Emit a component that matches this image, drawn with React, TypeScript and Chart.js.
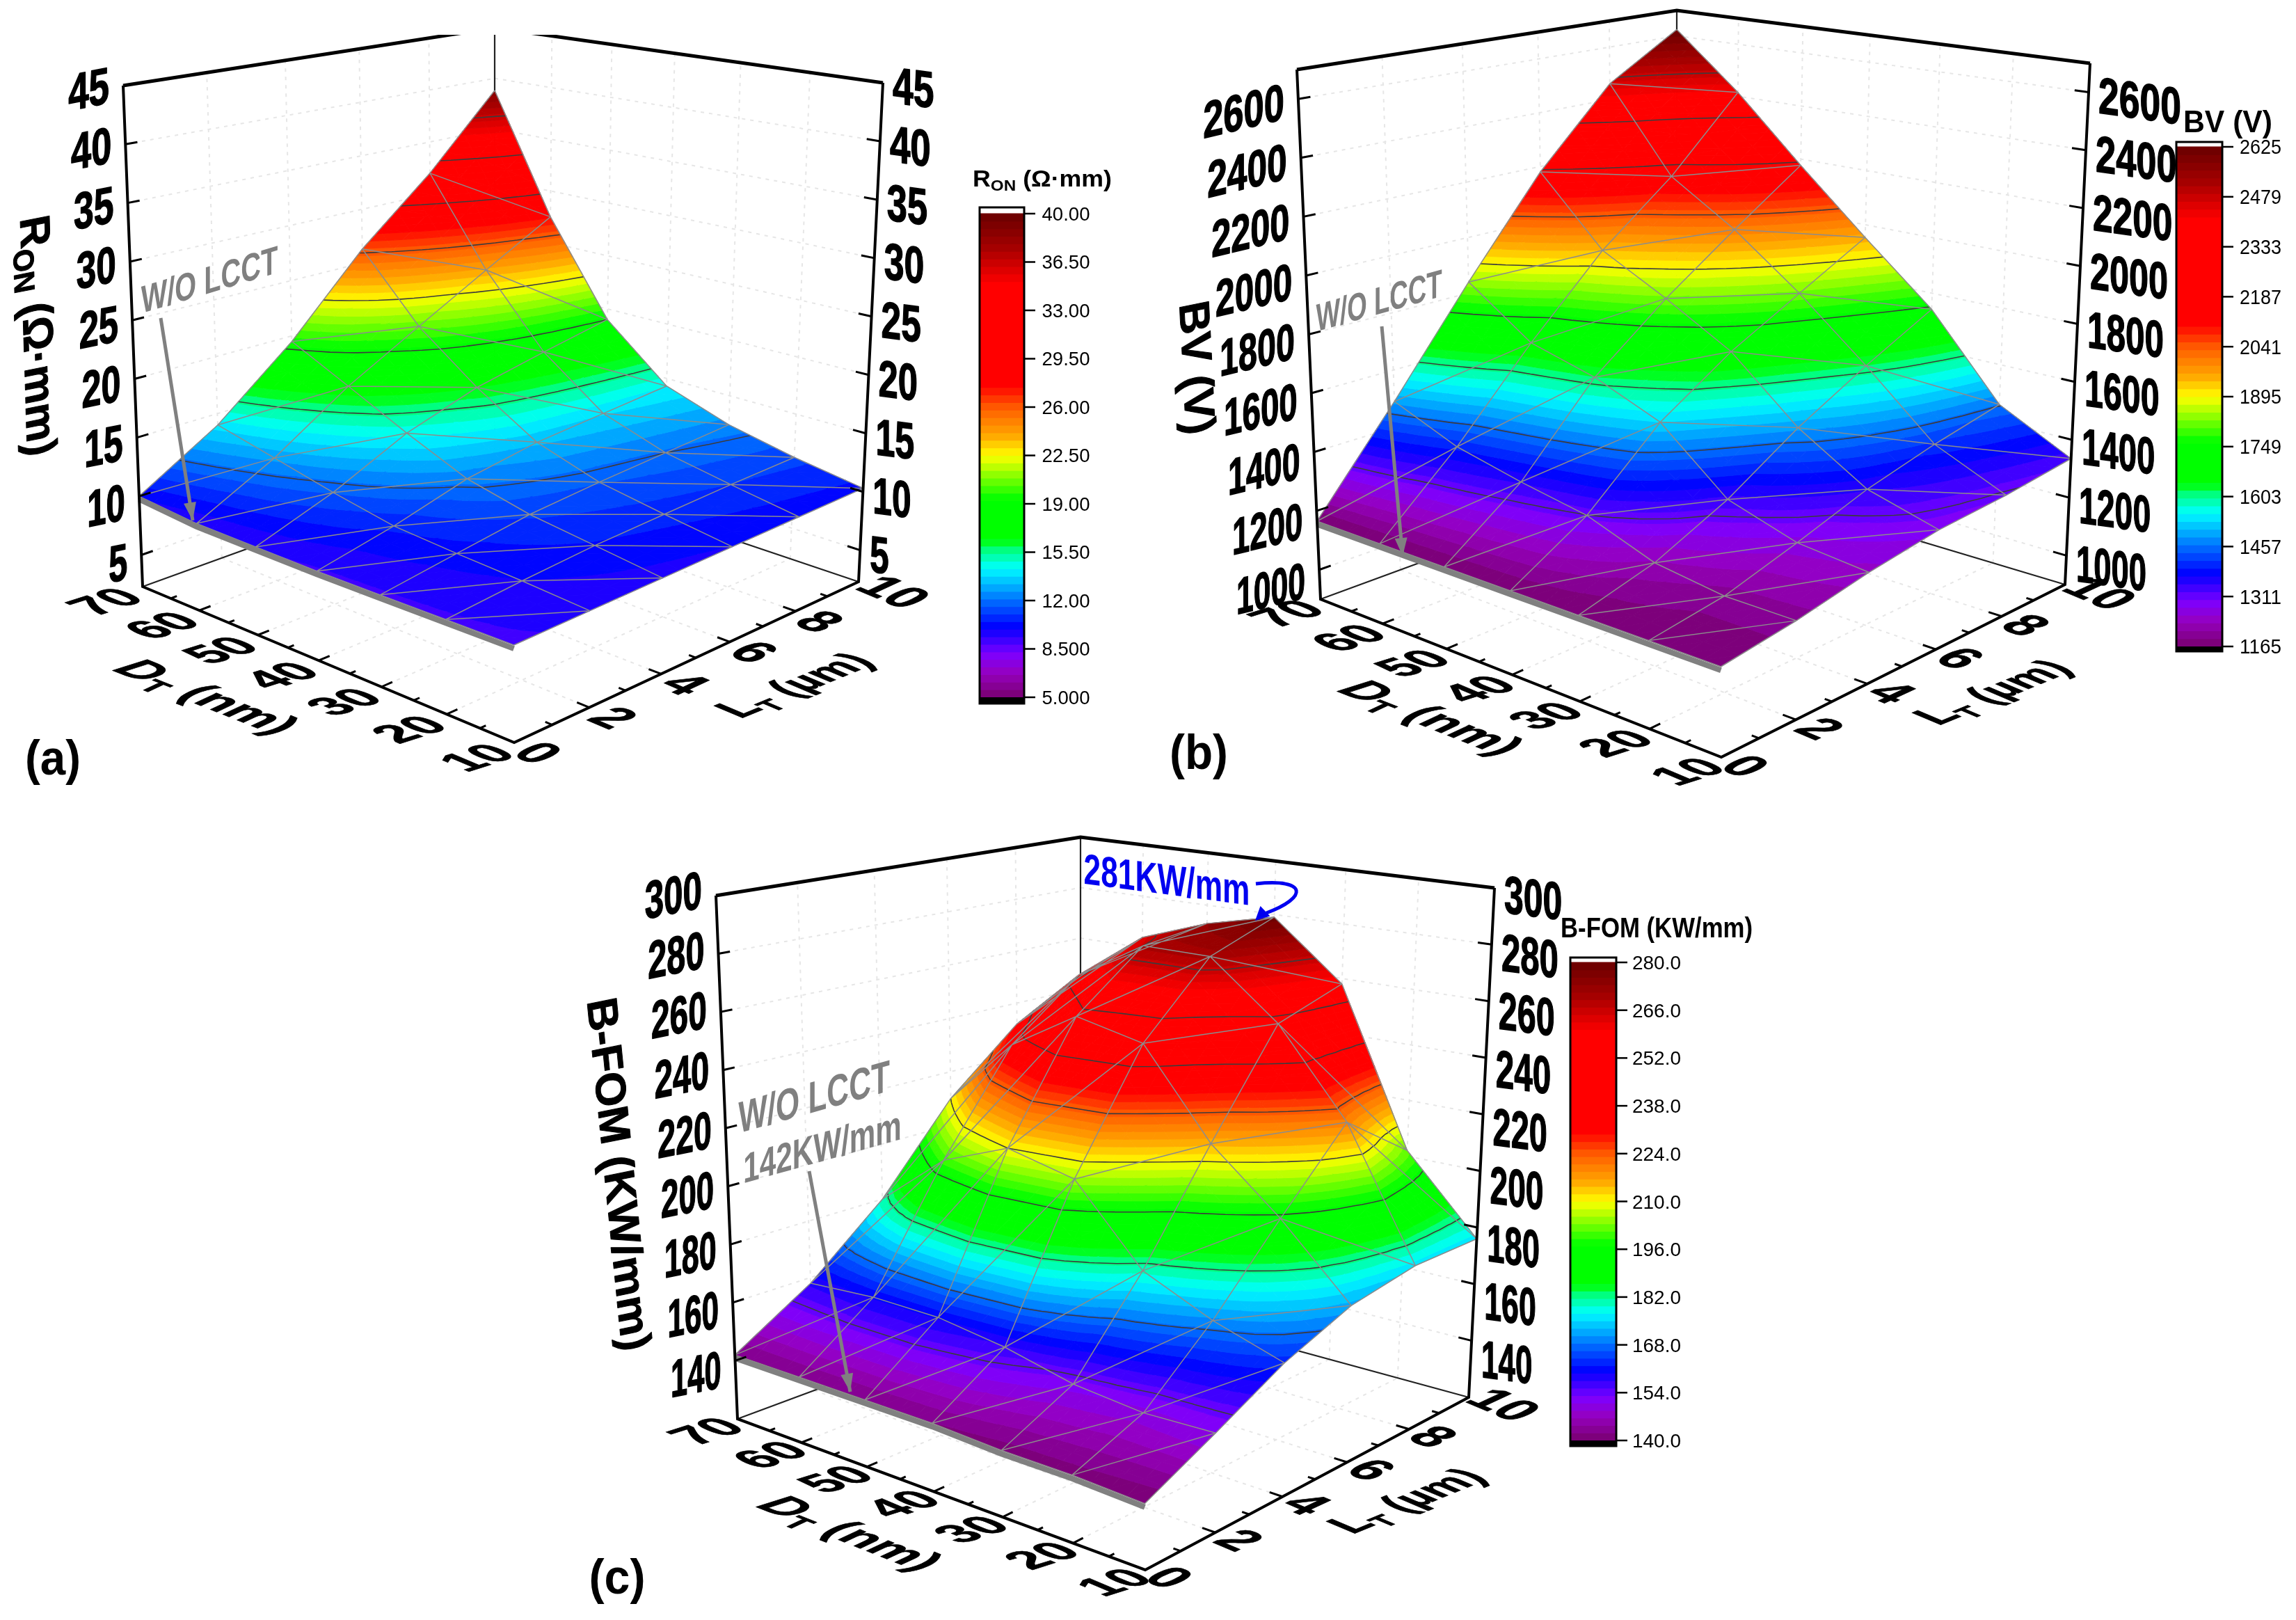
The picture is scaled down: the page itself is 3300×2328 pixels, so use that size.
import React, { useEffect, useRef } from "react";
import { Chart, registerables } from "chart.js";

Chart.register(...registerables);

// ---------- data ----------
const D_VALUES = [70, 60, 50, 40, 30, 20, 10];
const L_VALUES = [0, 2, 4, 6, 8, 10];
const D_TICKS = [70, 60, 50, 40, 30, 20, 10];
const L_TICKS = [0, 2, 4, 6, 8, 10];

// rows follow D_VALUES, columns follow L_VALUES
const RON_VALUES = [
  [10.0, 14.0, 19.5, 26.3, 32.0, 38.8],
  [9.5, 12.8, 17.0, 20.5, 24.0, 27.5],
  [9.4, 11.6, 14.5, 16.5, 17.8, 19.0],
  [9.3, 10.6, 12.3, 13.3, 13.8, 14.3],
  [9.3, 10.2, 11.1, 11.6, 12.0, 12.4],
  [9.3, 9.9, 10.4, 10.7, 11.0, 11.2],
  [9.3, 9.5, 9.7, 9.9, 10.1, 10.3],
];
const BV_VALUES = [
  [1165, 1490, 1840, 2180, 2460, 2625],
  [1165, 1400, 1680, 1940, 2150, 2415],
  [1165, 1350, 1620, 1820, 2000, 2177],
  [1165, 1310, 1530, 1690, 1820, 1953],
  [1165, 1230, 1340, 1490, 1620, 1742],
  [1165, 1200, 1270, 1350, 1410, 1460],
  [1165, 1200, 1249, 1287, 1305, 1335],
];
const BFOM_VALUES = [
  [142, 158, 180, 210, 232, 245],
  [142, 160, 200, 235, 255, 264],
  [142, 160, 210, 250, 270, 273],
  [142, 157, 205, 245, 270, 279],
  [141, 152, 180, 215, 250, 258],
  [141, 150, 170, 195, 220, 202],
  [140, 151, 163, 172, 176, 176],
];

const RON_Z_TICKS = [5, 10, 15, 20, 25, 30, 35, 40, 45];
const BV_Z_TICKS = [1000, 1200, 1400, 1600, 1800, 2000, 2200, 2400, 2600];
const BFOM_Z_TICKS = [140, 160, 180, 200, 220, 240, 260, 280, 300];

const RON_LEGEND = ["5.000", "8.500", "12.00", "15.50", "19.00", "22.50", "26.00", "29.50", "33.00", "36.50", "40.00"];
const BV_LEGEND = ["1165", "1311", "1457", "1603", "1749", "1895", "2041", "2187", "2333", "2479", "2625"];
const BFOM_LEGEND = ["140.0", "154.0", "168.0", "182.0", "196.0", "210.0", "224.0", "238.0", "252.0", "266.0", "280.0"];

// ---------- colour map ----------
const COLOR_STOPS: [number, number, number, number][] = [
  [0, 120, 0, 110],
  [0.05, 150, 0, 190],
  [0.09, 125, 0, 255],
  [0.146, 0, 0, 255],
  [0.2, 0, 110, 255],
  [0.268, 0, 255, 255],
  [0.31, 0, 255, 110],
  [0.325, 0, 255, 0],
  [0.41, 0, 255, 0],
  [0.5, 255, 255, 0],
  [0.54, 255, 170, 0],
  [0.6, 255, 90, 0],
  [0.645, 255, 0, 0],
  [0.855, 255, 0, 0],
  [0.93, 165, 0, 0],
  [1, 105, 0, 0],
];
const BANDS = 64;
function bandColor(i: number) {
  const t = (i + 0.5) / BANDS;
  for (let k = 1; k < COLOR_STOPS.length; k++) {
    const a = COLOR_STOPS[k - 1], b = COLOR_STOPS[k];
    if (t <= b[0]) {
      const f = (t - a[0]) / (b[0] - a[0]);
      return `rgb(${Math.round(a[1] + f * (b[1] - a[1]))},${Math.round(a[2] + f * (b[2] - a[2]))},${Math.round(a[3] + f * (b[3] - a[3]))})`;
    }
  }
  return "rgb(105,0,0)";
}

// ---------- panel layout ----------
type P = [number, number];
const PANELS: any[] = [
  {
    key: "a", rows: RON_VALUES, zMin: 2.3, zMax: 45, zTicks: RON_Z_TICKS, legend: RON_LEGEND,
    lMin: 5, lMax: 40,
    A: [205, 843], At: [177, 123], B: [739, 1067], Bt: [736, 213], C: [1234, 836], Ct: [1269, 119], E: [711, 660], Et: [711, 40],
    depth: [720, 800, 717, 620],
    zFont: { em: 74, w: 30, wBot: 0.92 }, zDyL: [-2, 8], zDyR: [2, 4], slopeL: -0.2, slopeR: 0.13,
    dOff: [-55, 21], lOff: [36, 14],
    zTitle: { runs: [["R", 1], ["ON", 0.68, 0.18], [" (Ω·mm)", 1]], x: 56, y: 482, b: [0.03, 1], u: [1, -0.2], em: 62, w: 344 },
    dTitle: { x: 300, y: 1000, w: 254, em: 66 }, lTitle: { x: 1140, y: 984, w: 212, em: 65 },
    bar: { x0: 1408, x1: 1472, top: 298, hi: 307, lo: 1002, bottom: 1011, lx: 1532, lw: 69, lem: 27 },
    barTitle: { runs: [["R", 1], ["ON", 0.68, 0.18], [" (Ω·mm)", 1]], x: 1498, y: 256, em: 33, w: 200 },
    tag: { text: "(a)", x: 76, y: 1088, w: 80, em: 70 },
    notes: [{ text: "W/O LCCT", x: 301, y: 401, w: 205, em: 56, slope: -0.3 }],
    arrow: [[231, 457], [277, 748]],
    clipTop: [600, 850, 50],
  },
  {
    key: "b", rows: BV_VALUES, zMin: 900, zMax: 2700, zTicks: BV_Z_TICKS, legend: BV_LEGEND,
    lMin: 1165, lMax: 2625,
    A: [1898, 861], At: [1864, 100], B: [2474, 1088], Bt: [2470, 205], C: [2968, 840], Ct: [3004, 91], E: [2410, 673], Et: [2410, 15],
    depth: [761, 830, 749, 658],
    zFont: { em: 74, w: 30, wBot: 0.85 }, zDyL: [2, 14], zDyR: [3, 10], slopeL: -0.24, slopeR: 0.14,
    dOff: [-50, 20], lOff: [36, 12],
    zTitle: { runs: [["BV (V)", 1]], x: 1722, y: 528, b: [0.05, 1], u: [1, -0.2], em: 62, w: 190 },
    dTitle: { x: 2060, y: 1030, w: 254, em: 66 }, lTitle: { x: 2862, y: 994, w: 212, em: 65 },
    bar: { x0: 3128, x1: 3194, top: 204, hi: 211, lo: 929, bottom: 936, lx: 3249, lw: 60, lem: 29 },
    barTitle: { runs: [["BV (V)", 1]], x: 3202, y: 174, em: 44, w: 128 },
    tag: { text: "(b)", x: 1723, y: 1080, w: 84, em: 70 },
    notes: [{ text: "W/O LCCT", x: 1982, y: 431, w: 188, em: 56, slope: -0.28 }],
    arrow: [[1986, 469], [2016, 799]],
  },
  {
    key: "c", rows: BFOM_VALUES, zMin: 120, zMax: 300, zTicks: BFOM_Z_TICKS, legend: BFOM_LEGEND,
    lMin: 140, lMax: 280,
    A: [1060, 2039], At: [1029, 1287], B: [1646, 2256], Bt: [1640, 1398], C: [2111, 2008], Ct: [2148, 1276], E: [1553, 1856], Et: [1553, 1203],
    depth: [752, 810, 732, 653],
    zFont: { em: 76, w: 28, wBot: 0.88 }, zDyL: [-10, 11], zDyR: [8, 25], slopeL: -0.2, slopeR: 0.13,
    dOff: [-46, 17], lOff: [36, 10],
    zTitle: { runs: [["B-FOM (KW/mm)", 1]], x: 891, y: 1687, b: [0.1, 1], u: [1, -0.2], em: 62, w: 508 },
    dTitle: { x: 1225, y: 2202, w: 254, em: 66 }, lTitle: { x: 2020, y: 2156, w: 212, em: 65 },
    bar: { x0: 2257, x1: 2323, top: 1376, hi: 1383, lo: 2070, bottom: 2078, lx: 2381, lw: 70, lem: 28 },
    barTitle: { runs: [["B-FOM (KW/mm)", 1]], x: 2381, y: 1333, em: 40, w: 276 },
    tag: { text: "(c)", x: 887, y: 2265, w: 81, em: 70 },
    notes: [
      { text: "W/O LCCT", x: 1170, y: 1575, w: 226, em: 64, slope: -0.28 },
      { text: "142KW/mm", x: 1182, y: 1647, w: 236, em: 60, slope: -0.28 },
    ],
    arrow: [[1163, 1683], [1222, 2000]],
    blue: { text: "281KW/mm", x: 1677, y: 1263, w: 241, em: 62, slope: 0.13 },
  },
];

// ---------- projection from (D, L, z) to the page scales ----------
function project(p: any, D: number, L: number, z: number): P {
  const u = L / 10;
  const v = (70 - D) / 60;
  const w = (z - p.zMin) / (p.zMax - p.zMin);
  const wt = [(1 - u) * (1 - v) / p.depth[0], (1 - u) * v / p.depth[1], u * v / p.depth[2], u * (1 - v) / p.depth[3]];
  const floor = [p.A, p.B, p.C, p.E];
  const top = [p.At, p.Bt, p.Ct, p.Et];
  let sx = 0, sy = 0, s = 0;
  for (let i = 0; i < 4; i++) {
    sx += wt[i] * (floor[i][0] + w * (top[i][0] - floor[i][0]));
    sy += wt[i] * (floor[i][1] + w * (top[i][1] - floor[i][1]));
    s += wt[i];
  }
  return [sx / s, sy / s];
}

function heightAt(p: any, di: number, lj: number) {
  const i0 = Math.min(Math.floor(di), D_VALUES.length - 2);
  const j0 = Math.min(Math.floor(lj), L_VALUES.length - 2);
  const fi = di - i0, fj = lj - j0;
  const r = p.rows;
  return (1 - fi) * (1 - fj) * r[i0][j0] + (1 - fi) * fj * r[i0][j0 + 1] + fi * (1 - fj) * r[i0 + 1][j0] + fi * fj * r[i0 + 1][j0 + 1];
}
const dAt = (di: number) => 70 - di * 10;
const lAt = (lj: number) => lj * 2;

// ---------- dataset builders ----------
const BREAK = { x: NaN, y: NaN };
function pt(p: any, D: number, L: number, z: number) {
  const q = project(p, D, L, z);
  return { x: q[0], y: q[1] };
}
function segs(list: { x: number; y: number }[][]) {
  const out: any[] = [];
  list.forEach((s) => { out.push(...s, BREAK); });
  return out;
}
function line(label: string, data: any[], color: string, width: number, order: number, dash?: number[]) {
  return {
    label, data, showLine: true, borderColor: color, borderWidth: width, pointRadius: 0, order,
    borderDash: dash || [], tension: 0, fill: false, spanGaps: false, borderCapStyle: "butt",
  };
}

function buildDatasets() {
  const sets: any[] = [];
  PANELS.forEach((p) => {
    const { zMin: a, zMax: b, zTicks } = p;
    // wall and floor grid
    const grid: any[][] = [];
    D_TICKS.slice(1, -1).forEach((D) => {
      grid.push([pt(p, D, 0, a), pt(p, D, 10, a)]);
      grid.push([pt(p, D, 10, a), pt(p, D, 10, b)]);
    });
    L_TICKS.slice(1, -1).forEach((L) => {
      grid.push([pt(p, 70, L, a), pt(p, 10, L, a)]);
      grid.push([pt(p, 70, L, a), pt(p, 70, L, b)]);
    });
    zTicks.forEach((z: number) => {
      grid.push([pt(p, 70, 0, z), pt(p, 70, 10, z)]);
      grid.push([pt(p, 70, 10, z), pt(p, 10, 10, z)]);
    });
    sets.push(line(`grid ${p.key}`, segs(grid), "#e6e6e6", 2, 60, [5, 7]));
    // back frame
    sets.push(line(`back ${p.key}`, segs([
      [pt(p, 70, 0, a), pt(p, 70, 10, a), pt(p, 10, 10, a)],
      [pt(p, 70, 10, a), pt(p, 70, 10, b)],
    ]), "#222222", 2.2, 50));
    // surface anchor: the plugin fills the bands when this dataset is reached
    const nodes: any[] = [];
    D_VALUES.forEach((D, i) => L_VALUES.forEach((L, j) => nodes.push(pt(p, D, L, p.rows[i][j]))));
    sets.push({ label: `surface ${p.key}`, data: nodes, showLine: false, pointRadius: 0, order: 40, panel: p });
    // mesh
    const mesh: any[][] = [];
    D_VALUES.forEach((D, i) => mesh.push(L_VALUES.map((L, j) => pt(p, D, L, p.rows[i][j]))));
    L_VALUES.forEach((L, j) => mesh.push(D_VALUES.map((D, i) => pt(p, D, L, p.rows[i][j]))));
    for (let i = 0; i < D_VALUES.length - 1; i++) {
      for (let j = 0; j < L_VALUES.length - 1; j++) {
        mesh.push([pt(p, D_VALUES[i], L_VALUES[j], p.rows[i][j]), pt(p, D_VALUES[i + 1], L_VALUES[j + 1], p.rows[i + 1][j + 1])]);
      }
    }
    sets.push(line(`mesh ${p.key}`, segs(mesh), "#8c8c8c", 1.5, 30));
    // thick grey edge for W/O LCCT
    const sink = (b - a) * 0.006;
    sets.push(line(`edge ${p.key}`, D_VALUES.map((D, i) => pt(p, D, 0, p.rows[i][0] - sink)), "#808080", 8, 20));
    // front frame and ticks
    sets.push(line(`top ${p.key}`, [pt(p, 70, 0, b), pt(p, 70, 10, b), pt(p, 10, 10, b)], "#000000", 5, 15));
    sets.push(line(`front ${p.key}`, segs([
      [pt(p, 70, 0, b), pt(p, 70, 0, a), pt(p, 10, 0, a), pt(p, 10, 10, a), pt(p, 10, 10, b)],
    ]), "#000000", 4, 14));
    const ticks: any[][] = [];
    for (let D = 15; D < 70; D += 5) {
      const major = D % 10 === 0;
      ticks.push([pt(p, D, 0, a), pt(p, D, major ? 0.28 : 0.15, a)]);
    }
    for (let L = 1; L < 10; L += 1) {
      const major = L % 2 === 0;
      ticks.push([pt(p, 10, L, a), pt(p, major ? 11.8 : 11, L, a)]);
    }
    zTicks.forEach((z: number) => {
      ticks.push([pt(p, 70, 0, z), pt(p, 70, 0.28, z)]);
      ticks.push([pt(p, 10, 10, z), pt(p, 11.8, 10, z)]);
    });
    sets.push(line(`ticks ${p.key}`, segs(ticks), "#000000", 3, 13));
  });
  return sets;
}

// ---------- text ----------
function drawRuns(ctx: any, runs: any[], o: any) {
  const nb = Math.hypot(o.b[0], o.b[1]), nu = Math.hypot(o.u[0], o.u[1]);
  const bx = o.b[0] / nb, by = o.b[1] / nb, ux = o.u[0] / nu, uy = o.u[1] / nu;
  ctx.save();
  ctx.fillStyle = o.color || "#000";
  ctx.strokeStyle = o.color || "#000";
  ctx.textBaseline = "alphabetic";
  ctx.textAlign = "left";
  const weight = o.weight || "bold";
  const fontOf = (r: any) => `${r[3] ? "italic " : ""}${weight} ${o.em * r[1]}px "Liberation Sans"`;
  let total = 0;
  runs.forEach((r) => { ctx.font = fontOf(r); total += ctx.measureText(r[0]).width; });
  const sx = o.w ? o.w / total : o.sx || 1;
  ctx.transform(bx * sx, by * sx, -ux, -uy, o.x, o.y);
  let x = o.align === "left" ? 0 : o.align === "right" ? -total : -total / 2;
  const base = o.em * 0.36;
  ctx.lineWidth = o.heavy || 0;
  ctx.lineJoin = "round";
  runs.forEach((r) => {
    ctx.font = fontOf(r);
    ctx.fillText(r[0], x, base + (r[2] || 0) * o.em);
    if (o.heavy) ctx.strokeText(r[0], x, base + (r[2] || 0) * o.em);
    x += ctx.measureText(r[0]).width;
  });
  ctx.restore();
}

function arrowHead(ctx: any, from: P, to: P, len: number, half: number) {
  const dx = to[0] - from[0], dy = to[1] - from[1];
  const n = Math.hypot(dx, dy);
  const ux = dx / n, uy = dy / n;
  ctx.beginPath();
  ctx.moveTo(to[0], to[1]);
  ctx.lineTo(to[0] - ux * len - uy * half, to[1] - uy * len + ux * half);
  ctx.lineTo(to[0] - ux * len + uy * half, to[1] - uy * len - ux * half);
  ctx.closePath();
  ctx.fill();
}

// ---------- surface ----------
function clipBelow(poly: any[], level: number, keepAbove: boolean) {
  const out: any[] = [];
  for (let i = 0; i < poly.length; i++) {
    const a = poly[i], b = poly[(i + 1) % poly.length];
    const ina = keepAbove ? a.z >= level : a.z <= level;
    const inb = keepAbove ? b.z >= level : b.z <= level;
    if (ina) out.push(a);
    if (ina !== inb) {
      const f = (level - a.z) / (b.z - a.z);
      out.push({ x: a.x + f * (b.x - a.x), y: a.y + f * (b.y - a.y), z: level });
    }
  }
  return out;
}

function drawSurface(chart: any, p: any) {
  const ctx = chart.ctx;
  const xs = chart.scales.x, ys = chart.scales.y;
  const SUB = 4;
  const dz = (p.lMax - p.lMin) / BANDS;
  const colors = Array.from({ length: BANDS }, (_, i) => bandColor(i));
  const vert = (di: number, lj: number) => {
    const z = heightAt(p, di, lj);
    const q = project(p, dAt(di), lAt(lj), z);
    return { x: xs.getPixelForValue(q[0]), y: ys.getPixelForValue(q[1]), z };
  };
  const tris: any[][] = [];
  const ni = (D_VALUES.length - 1) * SUB, nj = (L_VALUES.length - 1) * SUB;
  for (let i = 0; i < ni; i++) {
    for (let j = nj - 1; j >= 0; j--) {
      const a = vert(i / SUB, j / SUB), b = vert(i / SUB, (j + 1) / SUB);
      const c = vert((i + 1) / SUB, (j + 1) / SUB), d = vert((i + 1) / SUB, j / SUB);
      tris.push([a, b, c], [a, c, d]);
    }
  }
  ctx.save();
  ctx.lineWidth = 1;
  ctx.lineJoin = "round";
  tris.forEach((t) => {
    const zs = t.map((v) => v.z);
    const lo = Math.max(0, Math.min(BANDS - 1, Math.floor((Math.min(...zs) - p.lMin) / dz)));
    const hi = Math.max(0, Math.min(BANDS - 1, Math.floor((Math.max(...zs) - p.lMin) / dz)));
    for (let k = lo; k <= hi; k++) {
      let poly = t;
      if (k > 0) poly = clipBelow(poly, p.lMin + k * dz, true);
      if (k < BANDS - 1 && poly.length) poly = clipBelow(poly, p.lMin + (k + 1) * dz, false);
      if (poly.length < 3) continue;
      ctx.beginPath();
      poly.forEach((v: any, n: number) => (n ? ctx.lineTo(v.x, v.y) : ctx.moveTo(v.x, v.y)));
      ctx.closePath();
      ctx.fillStyle = colors[k];
      ctx.strokeStyle = colors[k];
      ctx.fill();
      ctx.stroke();
    }
  });
  // contour lines at the legend levels
  ctx.strokeStyle = "#3c3c3c";
  ctx.lineWidth = 1.6;
  p.legend.forEach((_: string, n: number) => {
    const level = p.lMin + (n * (p.lMax - p.lMin)) / (p.legend.length - 1);
    ctx.beginPath();
    tris.forEach((t) => {
      const hit: any[] = [];
      for (let i = 0; i < 3; i++) {
        const a = t[i], b = t[(i + 1) % 3];
        if ((a.z < level) !== (b.z < level)) {
          const f = (level - a.z) / (b.z - a.z);
          hit.push([a.x + f * (b.x - a.x), a.y + f * (b.y - a.y)]);
        }
      }
      if (hit.length === 2) {
        ctx.moveTo(hit[0][0], hit[0][1]);
        ctx.lineTo(hit[1][0], hit[1][1]);
      }
    });
    ctx.stroke();
  });
  ctx.restore();
}

const surfacePlugin = {
  id: "surfaceBands",
  beforeDatasetDraw(chart: any, args: any) {
    const ds = chart.data.datasets[args.index];
    if (ds.panel) drawSurface(chart, ds.panel);
  },
  afterDatasetsDraw(chart: any) {
    const ctx = chart.ctx;
    PANELS.forEach((p) => {
      if (p.clipTop) {
        ctx.fillStyle = "#fff";
        ctx.fillRect(p.clipTop[0], 0, p.clipTop[1] - p.clipTop[0], p.clipTop[2]);
      }
      // z tick labels on both walls
      const zFirst = p.zTicks[0], zLast = p.zTicks[p.zTicks.length - 1];
      p.zTicks.forEach((z: number) => {
        const l = project(p, 70, 0, z);
        const r = project(p, 10, 10, z);
        const s = String(z);
        const f = (zLast - z) / (zLast - zFirst);
        const w = p.zFont.w * s.length * (1 + f * (p.zFont.wBot - 1));
        const dl = p.zDyL[0] + f * (p.zDyL[1] - p.zDyL[0]);
        const dr = p.zDyR[0] + f * (p.zDyR[1] - p.zDyR[0]);
        drawRuns(ctx, [[s, 1]], { x: l[0] - 20, y: l[1] + dl, b: [1, p.slopeL], u: [0, -1], em: p.zFont.em, w, align: "right", heavy: 1.5 });
        drawRuns(ctx, [[s, 1]], { x: r[0] + 14, y: r[1] + dr, b: [1, p.slopeR], u: [0, -1], em: p.zFont.em, w, align: "left", heavy: 1.5 });
      });
      // floor tick labels lie in the floor plane
      D_TICKS.forEach((D) => {
        const q = project(p, D, 0, p.zMin);
        drawRuns(ctx, [[String(D), 1]], { x: q[0] + p.dOff[0], y: q[1] + p.dOff[1], b: [0.95, -0.3], u: [-0.92, -0.39], em: 72, heavy: 1 });
      });
      L_TICKS.forEach((L) => {
        const q = project(p, 10, L, p.zMin);
        const s = String(L);
        drawRuns(ctx, [[s, 1]], { x: q[0] + p.lOff[0] + (s.length > 1 ? 16 : 0), y: q[1] + p.lOff[1], b: [0.92, 0.39], u: [0.906, -0.423], em: 72, heavy: 1 });
      });
      // axis titles
      drawRuns(ctx, p.zTitle.runs, { ...p.zTitle, heavy: 1 });
      drawRuns(ctx, [["D", 1, 0, true], ["T", 0.65, 0.2], [" (nm)", 1]], { ...p.dTitle, b: [0.93, 0.37], u: [0.906, -0.423], heavy: 1 });
      drawRuns(ctx, [["L", 1], ["T", 0.65, 0.2], [" (µm)", 1]], { ...p.lTitle, b: [0.93, -0.38], u: [-0.92, -0.39], heavy: 1 });
      // panel tag
      drawRuns(ctx, [[p.tag.text, 1]], { ...p.tag, b: [1, 0], u: [0, -1] });
      // annotations
      p.notes.forEach((n: any) => {
        drawRuns(ctx, [[n.text, 1]], { ...n, b: [1, n.slope], u: [0, -1], color: "#808080" });
      });
      ctx.strokeStyle = "#808080";
      ctx.fillStyle = "#808080";
      ctx.lineWidth = 5;
      ctx.beginPath();
      ctx.moveTo(p.arrow[0][0], p.arrow[0][1]);
      ctx.lineTo(p.arrow[1][0], p.arrow[1][1]);
      ctx.stroke();
      arrowHead(ctx, p.arrow[0], p.arrow[1], 26, 9);
      if (p.blue) {
        drawRuns(ctx, [[p.blue.text, 1]], { ...p.blue, b: [1, p.blue.slope], u: [0, -1], color: "#0000f0" });
        ctx.strokeStyle = "#0000f0";
        ctx.fillStyle = "#0000f0";
        ctx.lineWidth = 5;
        ctx.beginPath();
        ctx.moveTo(1805, 1270);
        ctx.bezierCurveTo(1880, 1262, 1880, 1290, 1820, 1312);
        ctx.stroke();
        arrowHead(ctx, [1828, 1300], [1804, 1323], 20, 10);
      }
      // colour bar
      const bar = p.bar;
      for (let i = 0; i < BANDS; i++) {
        ctx.fillStyle = bandColor(i);
        const y1 = bar.lo + ((bar.hi - bar.lo) * i) / BANDS;
        const y2 = bar.lo + ((bar.hi - bar.lo) * (i + 1)) / BANDS;
        ctx.fillRect(bar.x0, y2 - 0.5, bar.x1 - bar.x0, y1 - y2 + 1);
      }
      ctx.fillStyle = "#000";
      ctx.fillRect(bar.x0, bar.lo, bar.x1 - bar.x0, bar.bottom - bar.lo);
      ctx.strokeStyle = "#000";
      ctx.lineWidth = 3;
      ctx.strokeRect(bar.x0, bar.top, bar.x1 - bar.x0, bar.bottom - bar.top);
      p.legend.forEach((s: string, n: number) => {
        const y = bar.lo + ((bar.hi - bar.lo) * n) / (p.legend.length - 1);
        ctx.lineWidth = 2.5;
        ctx.strokeStyle = "#000";
        ctx.beginPath();
        ctx.moveTo(bar.x1, y);
        ctx.lineTo(bar.x1 + 16, y);
        ctx.stroke();
        drawRuns(ctx, [[s, 1]], { x: bar.lx, y, b: [1, 0], u: [0, -1], em: bar.lem, w: bar.lw, weight: "normal" });
      });
      drawRuns(ctx, p.barTitle.runs, { ...p.barTitle, b: [1, 0], u: [0, -1] });
    });
  },
};

export default function App() {
  const ref = useRef<HTMLCanvasElement | null>(null);
  useEffect(() => {
    const chart = new Chart(ref.current as any, {
      type: "scatter",
      data: { datasets: buildDatasets() },
      options: {
        animation: false,
        responsive: false,
        devicePixelRatio: 1,
        events: [],
        layout: { padding: 0 },
        plugins: { legend: { display: false }, tooltip: { enabled: false } },
        scales: {
          x: { type: "linear", min: 0, max: 3300, display: false },
          y: { type: "linear", min: 0, max: 2328, reverse: true, display: false },
        },
      } as any,
      plugins: [surfacePlugin as any],
    });
    return () => chart.destroy();
  }, []);
  return (
    <canvas
      ref={ref}
      width={3300}
      height={2328}
      style={{ position: "absolute", left: 0, top: 0, display: "block", background: "#fff" }}
    />
  );
}
